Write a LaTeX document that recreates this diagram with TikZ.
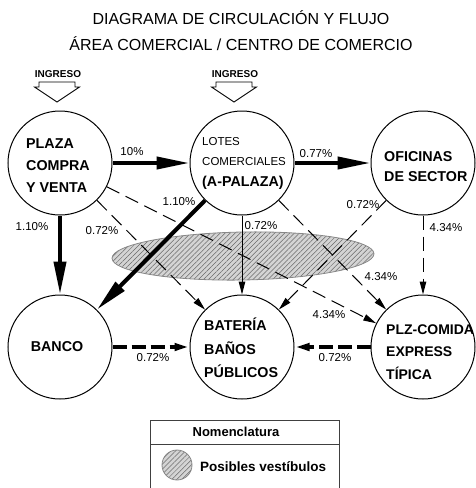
\documentclass[tikz,border=0pt]{standalone}
\usepackage{fontspec}
\setmainfont{Liberation Sans}
\usetikzlibrary{arrows.meta,patterns.meta}
\definecolor{hatchc}{RGB}{105,105,105}
\definecolor{vestc}{RGB}{212,212,212}
\newcommand{\ligera}{\mdseries\fontsize{11.5}{20.5}\selectfont}
\tikzset{
  zona/.style={circle,draw=black,line width=1pt,minimum size=104pt,inner sep=0pt},
  ztxt/.style={anchor=west,align=left,inner sep=0pt,font=\fontsize{14.3}{22}\selectfont\bfseries},
  pct/.style={inner sep=0pt,font=\fontsize{11.5}{13}\selectfont},
  titulo/.style={anchor=base,inner sep=0pt,font=\fontsize{16}{18}\selectfont},
  ingtxt/.style={anchor=base,inner sep=0pt,font=\fontsize{10}{11}\selectfont\bfseries},
  ingreso/.style={draw=black,line width=0.9pt,fill=white,line join=miter},
  fuerte/.style={line width=4pt,-{Triangle[length=33pt,width=12pt]}},
  leve/.style={line width=1pt,-{Triangle[length=13pt,width=6.5pt]}},
  leved/.style={leve,dash pattern=on 14pt off 7pt},
  fuerted/.style={line width=4pt,dash pattern=on 14pt off 5pt,-{Triangle[length=15pt,width=7pt]}},
  vest/.style={draw=hatchc!80,line width=0.8pt,preaction={fill=vestc},
    pattern={Lines[angle=45,distance=3.5pt,line width=0.5pt]},pattern color=hatchc},
  caja/.style={draw=black!75,line width=0.9pt},
}

\begin{document}
\begin{tikzpicture}[x=1pt,y=-1pt]
  \useasboundingbox (0,0) rectangle (475,488);
  % titulo
  \node[titulo] (tit1) at (241,24) {DIAGRAMA DE CIRCULACIÓN Y FLUJO};
  \node[titulo] (tit2) at (241,50) {ÁREA COMERCIAL / CENTRO DE COMERCIO};
  % ingresos
  \foreach \cx/\nm in {57/ingA,234/ingB}{
     \node[ingtxt] (\nm) at (\cx+1,77) {INGRESO};
     \draw[ingreso] (\cx-18,82) -- (\cx+18,82) -- (\cx+18,87) -- (\cx+22.5,87)
        -- (\cx,102) -- (\cx-22.5,87) -- (\cx-18,87) -- cycle;}
  % zonas
  \foreach \n/\x/\y in {plaza/60/163,lotes/242/163,oficinas/423/163,banco/60/347,bateria/242/347,comida/423/347}{
     \node[zona] (\n) at (\x,\y) {};}
  \node[ztxt] (plazat) at (26,166) {PLAZA\\COMPRA\\Y VENTA};
  \node[ztxt,font=\fontsize{14.3}{20.5}\selectfont\bfseries] (lotest) at (202,163)
     {{\ligera LOTES}\\{\ligera COMERCIALES}\\(A-PALAZA)};
  \node[ztxt,font=\fontsize{14.3}{20}\selectfont\bfseries] (oficinast) at (384,167) {OFICINAS\\DE SECTOR};
  \node[ztxt,anchor=center] (bancot) at (57,347) {BANCO};
  \node[ztxt,font=\fontsize{14.3}{23.5}\selectfont\bfseries] (bateriat) at (204,348) {BATERÍA\\BAÑOS\\PÚBLICOS};
  \node[ztxt,font=\fontsize{14}{22.5}\selectfont\bfseries] (comidat) at (386,352) {PLZ-COMIDA\\EXPRESS\\TÍPICA};
  % vestibulos
  \draw[vest,rotate around={1:(243,256)}] (243,256) ellipse [x radius=131,y radius=24];
  % flujos
  \draw[leved] (plaza) -- (bateria);
  \draw[leved] (plaza) -- (comida);
  \draw[leved] (lotes) -- (comida);
  \draw[leved] (oficinas) -- (bateria);
  \draw[leved] (oficinas) -- (comida);
  \draw[leve] (lotes) -- (bateria);
  \draw[fuerte] (plaza) -- (lotes);
  \draw[fuerte] (lotes) -- (oficinas);
  \draw[fuerte] (plaza) -- (banco);
  \draw[fuerte] (lotes) -- (banco);
  \draw[fuerted] (banco) -- (bateria);
  \draw[fuerted] (comida) -- (bateria);
  \foreach \i/\x/\y/\t in {1/132/152/10\%,2/316/154/0.77\%,3/32/227/1.10\%,4/102/231/0.72\%,
     5/179/202/1.10\%,6/363/205/0.72\%,7/261/226/0.72\%,8/446/228/4.34\%,9/381/277/4.34\%,
     10/329/315/4.34\%,11/153/358/0.72\%,12/335/358/0.72\%}{
     \node[pct] (pct\i) at (\x,\y) {\t};}
  % nomenclatura
  \draw[caja] (150,420) rectangle (339,492);
  \draw[caja] (150,444) -- (339,444);
  \node[font=\fontsize{13}{15}\selectfont\bfseries,inner sep=0pt] (nomen) at (236,432) {Nomenclatura};
  \node[vest,circle,minimum size=30pt,inner sep=0pt] (muestra) at (177,465) {};
  \node[font=\fontsize{13.5}{15}\selectfont\bfseries,anchor=west,inner sep=0pt] (vestt) at (200,467) {Posibles vestíbulos};
\end{tikzpicture}
\end{document}
